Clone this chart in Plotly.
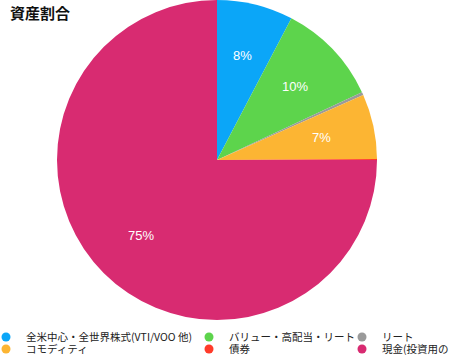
import math
import plotly.graph_objects as go

title = "資産割合"
labels = ["全米中心・全世界株式(VTI/VOO 他)", "バリュー・高配当・リート", "リート",
          "コモディティ", "債券", "現金(投資用の"]
values = [7.7, 10.35, 0.3, 6.55, 0.1, 75.0]
colors = ["#0BA6F8", "#5DD44C", "#9A9A9A", "#FCB533", "#FF3B2A", "#D82B71"]
show_text = [True, True, False, True, False, True]

W, H = 450, 357
CX, CY, R = 217, 160, 160          # pie centre / radius in pixels
LABEL_R = 0.67                     # label distance as fraction of radius

fig = go.Figure()
fig.add_trace(go.Pie(
    labels=labels, values=values, sort=False, direction="clockwise", rotation=0,
    marker=dict(colors=colors, line=dict(width=0)),
    textinfo="none", showlegend=False, hoverinfo="label+percent",
    domain=dict(x=[(CX - R) / W, (CX + R) / W], y=[1 - (CY + R) / H, 1.0]),
))

# percentage labels placed along each slice's mid-angle
total = sum(values)
cum = 0.0
annotations = []
for v, s in zip(values, show_text):
    mid = (cum + v / 2) / total * 2 * math.pi
    cum += v
    if not s:
        continue
    px = CX + LABEL_R * R * math.sin(mid)
    py = CY - LABEL_R * R * math.cos(mid)
    annotations.append(dict(
        x=px / W, y=1 - py / H, xref="paper", yref="paper", showarrow=False,
        text=f"{round(v / total * 100)}%",
        font=dict(color="white", size=13, family="Liberation Sans"),
        xanchor="center", yanchor="middle"))

# legend grid: 3 columns x 2 rows (text start x, row centre y)
col_text_x = [26, 229, 382]
row_y = [337, 349]
layout_legends = {}
for i, (lab, col) in enumerate(zip(labels, colors)):
    name = "legend" if i == 0 else f"legend{i + 1}"
    fig.add_trace(go.Scatter(x=[0], y=[0], mode="markers", name=lab,
                             marker=dict(color=col, size=9), legend=name,
                             showlegend=True, hoverinfo="skip"))
    r, c = divmod(i, 3)
    layout_legends[name] = dict(
        xref="paper", yref="paper", orientation="v",
        x=(col_text_x[c] - 40) / W, xanchor="left",
        y=1 - row_y[r] / H, yanchor="middle",
        bgcolor="rgba(0,0,0,0)", borderwidth=0,
        font=dict(size=10.5, family="Noto Sans CJK JP", color="#222"),
        itemclick=False, itemdoubleclick=False,
    )

fig.update_layout(
    width=W, height=H, margin=dict(l=0, r=0, t=0, b=0, autoexpand=False),
    paper_bgcolor="white", plot_bgcolor="rgba(0,0,0,0)",
    xaxis=dict(visible=False, range=[1, 2]), yaxis=dict(visible=False, range=[1, 2]),
    title=dict(text=f"<b>{title}</b>", xref="container", yref="container",
               x=10 / W, xanchor="left", y=1 - 14 / H, yanchor="middle",
               font=dict(size=15, family="Noto Sans CJK JP", color="#111")),
    annotations=annotations,
    **layout_legends,
)
fig.write_html("out.html")
